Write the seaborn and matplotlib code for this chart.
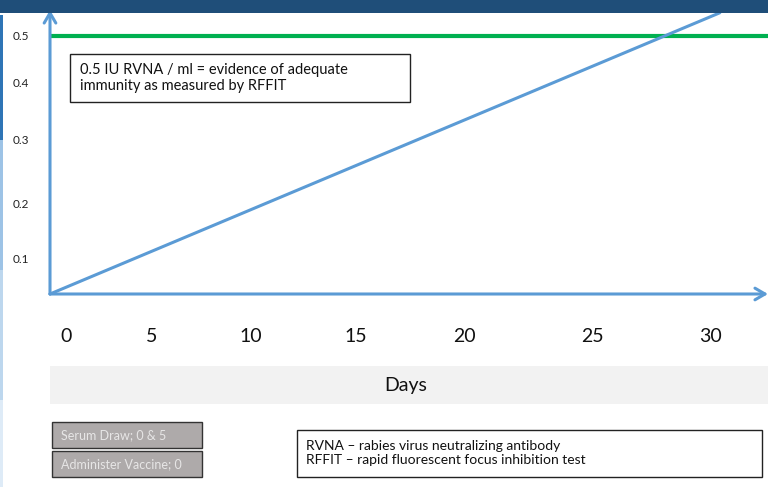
import numpy as np
import pandas as pd
import matplotlib
matplotlib.use("Agg")
import matplotlib.pyplot as plt
from matplotlib.patches import Rectangle
import seaborn as sns

# --- data ---
days = [0, 30.4]
rvna = [0, 0.545]
threshold = 0.5

day_labels = ["0", "5", "10", "15", "20", "25", "30"]
day_label_pos = [0.73, 4.6, 9.1, 13.9, 18.8, 24.6, 30.0]   # where the slide places them
rvna_labels = ["0.5", "0.4", "0.3", "0.2", "0.1"]
rvna_label_pos = [0.5, 0.408, 0.297, 0.174, 0.066]

sns.set_theme(style="white")
plt.rcParams["font.family"] = ["Lato", "DejaVu Sans"]

W, H = 768, 487
fig = plt.figure(figsize=(W / 100, H / 100), dpi=100)

def fx(px):
    return px / W

def fy(py):
    return 1 - py / H

def box(x0, y0, x1, y1, fc, ec=None, lw=1, z=1):
    fig.patches.append(Rectangle((fx(x0), fy(y1)), (x1 - x0) / W, (y1 - y0) / H,
                                 transform=fig.transFigure, fc=fc,
                                 ec=ec if ec else "none", lw=lw, zorder=z))

# slide decorations
box(0, 0, W, 13, "#1F4E79", z=0)
for y0, y1, c in [(15, 140, "#2E75B6"), (140, 270, "#9DC3E6"),
                  (270, 400, "#BDD7EE"), (400, 487, "#DEEBF7")]:
    box(0, y0, 3, y1, c, z=0)
box(50, 366, W, 404, "#F2F2F2", z=0)

# plotting area: origin at px (50, 294), x in days, y in IU/ml
kx = (711 - 50) / 30.0
ky = (294 - 36) / 0.5
ax = fig.add_axes([fx(50), fy(294), (W - 50) / W, (294 - 10) / H])
ax.set_xlim(0, (W - 50) / kx)
ax.set_ylim(0, (294 - 10) / ky)
ax.patch.set_alpha(0)
for s in ax.spines.values():
    s.set_visible(False)
ax.set_xticks([])
ax.set_yticks([])

df = pd.DataFrame({"day": days, "rvna": rvna})
sns.lineplot(data=df, x="day", y="rvna", ax=ax, color="#5B9BD5", linewidth=2.2,
             clip_on=False, zorder=3)
ax.axhline(threshold, color="#00B050", linewidth=3, zorder=2)

# arrow axes
arrow = dict(arrowstyle="->,head_length=0.6,head_width=0.35", color="#5B9BD5", lw=2.2,
             shrinkA=0, shrinkB=0)
ax.annotate("", xy=(0, 1), xytext=(0, 0), xycoords="axes fraction", arrowprops=arrow,
            annotation_clip=False)
ax.annotate("", xy=(1, 0), xytext=(0, 0), xycoords="axes fraction", arrowprops=arrow,
            annotation_clip=False)

# tick labels
for lab, pos in zip(day_labels, day_label_pos):
    ax.text(pos, -43 / ky, lab, ha="center", va="center", fontsize=14, color="#111111",
            clip_on=False)
for lab, pos in zip(rvna_labels, rvna_label_pos):
    ax.text(-29 / kx, pos, lab, ha="center", va="center", fontsize=8.5, color="#222222",
            clip_on=False)

fig.text(fx(406), fy(385), "Days", ha="center", va="center", fontsize=14, color="#111111")

# annotation box
box(70, 54, 410, 102, "white", "#222222", z=4)
fig.text(fx(80), fy(78),
         "0.5 IU RVNA / ml = evidence of adequate\nimmunity as measured by RFFIT",
         ha="left", va="center", fontsize=10.5, color="#111111", linespacing=1.15, zorder=5)

# bottom boxes
for y, txt in [(435, "Serum Draw; 0 & 5"), (464, "Administer Vaccine; 0")]:
    box(52, y - 13, 202, y + 13, "#AEAAAA", "#333333")
    fig.text(fx(61), fy(y), txt, ha="left", va="center", fontsize=9, color="#E7E6E6")

box(297, 430, 762, 477, "white", "#222222")
fig.text(fx(306), fy(453),
         "RVNA \u2013 rabies virus neutralizing antibody\nRFFIT \u2013 rapid fluorescent focus inhibition test",
         ha="left", va="center", fontsize=10, color="#111111", linespacing=1.2)

fig.savefig("out.png", dpi=100)
